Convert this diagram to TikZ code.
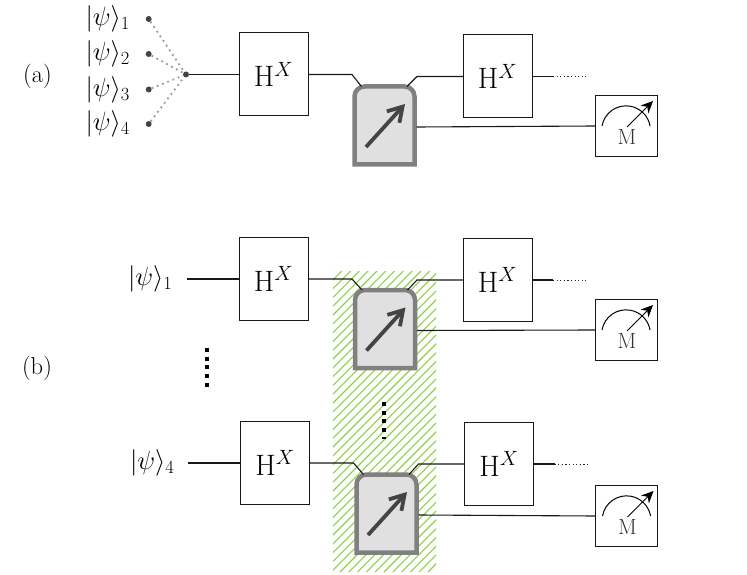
\RequirePackage{fix-cm}
\documentclass[tikz,border=0pt]{standalone}
\usetikzlibrary{arrows.meta}
\definecolor{hatchgreen}{HTML}{8FCF45}
\definecolor{detgray}{HTML}{808080}
\definecolor{detfill}{HTML}{E0E0E0}
\definecolor{darkline}{HTML}{444444}
\tikzset{
    hbox/.style={draw=black!90,line width=1pt,minimum width=69pt,minimum height=83pt,inner sep=0pt,outer sep=0pt,font=\fontsize{29.5}{32}\selectfont},
    mbox/.style={draw=black!90,line width=1pt,minimum width=62pt,minimum height=61pt,inner sep=0pt,outer sep=0pt},
    wire/.style={draw=black!90,line width=1.1pt},
    ket/.style={inner sep=0pt,outer sep=0pt,font=\fontsize{26.5}{28}\selectfont},
    spot/.style={circle,fill=darkline,inner sep=0pt,minimum size=6pt},
    fan/.style={draw=gray!80,line width=1.8pt,dash pattern=on 1.8pt off 3.8pt},
    tail/.style={draw=black!85,line width=0.8pt,dash pattern=on 1.2pt off 2.4pt},
    vdots/.style={draw=black,line width=4pt,dash pattern=on 4pt off 4.7pt},
    detector/.pic={
        \draw[draw=detgray,fill=detfill,line width=4.5pt]
            (-30,-39) [rounded corners=10pt] -- (-30,39) -- (30,39) [sharp corners] -- (30,-39) -- cycle;
        \draw[draw=darkline,line width=3.8pt,-{Straight Barb[length=14pt,width=17pt]}] (-18.5,-21.5) -- (20.5,21.5);
        \coordinate (-in) at (-23,39);
        \coordinate (-out) at (22.5,39);
        \coordinate (-side) at (32,-1.5);
    },
    meter/.pic={
        \draw[black,line width=1pt] (-24,0) arc (170:10:24.4);
        \draw[black,line width=1pt,-{Stealth[length=12pt,width=11pt]}] (1,-1) -- (27,25);
        \node[text=black!80,font=\fontsize{22}{22}\selectfont] at (1,-11) {M};
    },
}
\begin{document}
\begin{tikzpicture}[x=1pt,y=1pt,font=\fontsize{24.5}{28}\selectfont]
    \useasboundingbox (0,0) rectangle (747,-575);
    % hatched band
    \begin{scope}
        \clip (333,-271) rectangle (436,-572);
        \foreach \c in {32,40.8,...,440}
            {
                \draw[hatchgreen,line width=1.1pt] (\c,-572) -- (\c+301,-271);
            }
    \end{scope}

    \node[inner sep=0pt] (laba) at (37.5,-76) {(a)};
    \node[inner sep=0pt] (labb) at (37,-368) {(b)};

    % rows: name / first box / detector / second box / meter
    \foreach \r/\hax/\hay/\dx/\dy/\hbx/\hby/\mx/\my in {
        a/273.5/74.5/384.5/125.5/497.5/76.5/626/126,
        b/273.5/279/385/329/497.5/280/626/330,
        c/275/463/386.5/513.5/499/464/626.5/516}
        {
            \node[hbox] (h\r) at (\hax,-\hay) {$\mathrm{H}^X$};
            \node[hbox] (k\r) at (\hbx,-\hby) {$\mathrm{H}^X$};
            \node[mbox] (m\r) at (\mx,-\my) {};
            \pic at (\mx,-\my) {meter};
            \pic (d\r) at (\dx,-\dy) {detector};
            \draw[wire] (h\r.east) -- ([xshift=44pt]h\r.east) -- (d\r-in);
            \draw[wire] (d\r-out) -- ([xshift=-46pt]k\r.west) -- (k\r.west);
            \draw[wire] (d\r-side) -- (m\r.west);
            \coordinate (t\r) at ([xshift=21pt]k\r.east);
            \coordinate (e\r) at ([xshift=54pt]k\r.east);
            \draw[wire] (k\r.east) -- (t\r);
            \draw[tail] (t\r) -- (e\r);
        }

    % fan of inputs
    \node[spot] (hub) at (186,-74.5) {};
    \draw[wire] (hub) -- (ha.west);
    \foreach \i/\yy in {1/19,2/54,3/89.5,4/124}
        {
            \node[spot] (s\i) at (148.7,-\yy) {};
            \node[ket,anchor=east] (p\i) at (130,-\yy) {$|\psi\rangle_{\i}$};
            \draw[fan] (s\i) -- (hub);
        }

    % inputs of the lower part
    \node[ket,anchor=east] (pb) at (172.5,-279) {$|\psi\rangle_{1}$};
    \node[ket,anchor=east] (pc) at (174.5,-463) {$|\psi\rangle_{4}$};
    \draw[wire] ([xshift=14pt]pb.east) -- (hb.west);
    \draw[wire] ([xshift=13.5pt]pc.east) -- (hc.west);

    \draw[vdots] (207,-348) -- (207,-388);
    \draw[vdots] (384,-402) -- (384,-439);
\end{tikzpicture}
\end{document}
